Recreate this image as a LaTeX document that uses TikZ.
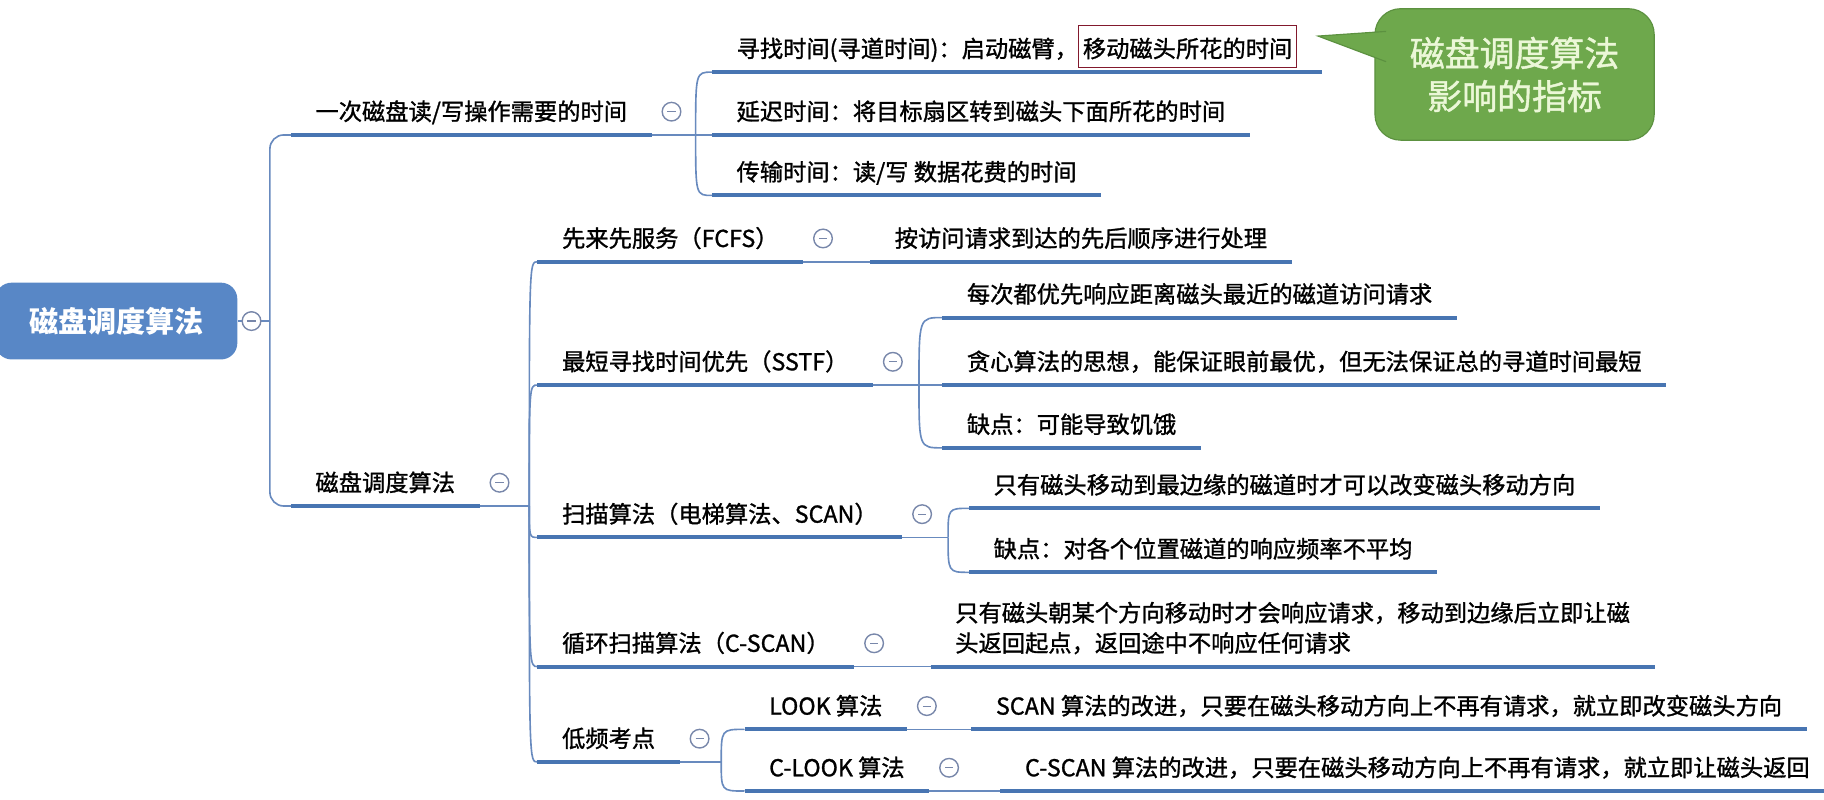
\documentclass[tikz,border=0pt]{standalone}
\usepackage{fontspec}
\setmainfont{Noto Sans CJK SC}[UprightFeatures={FakeBold=1.2}]
\usepackage{xcolor}
\usetikzlibrary{positioning, calc}

\definecolor{lineblue}{RGB}{72,117,178}
\definecolor{linkblue}{RGB}{104,138,190}
\definecolor{rootblue}{RGB}{88,135,198}
\definecolor{foldgray}{RGB}{120,135,170}
\definecolor{boxred}{RGB}{130,25,45}
\definecolor{notegreen}{RGB}{110,168,76}
\definecolor{noteedge}{RGB}{92,145,64}
\definecolor{notetext}{RGB}{235,247,215}

\newcommand\redmark[1]{{\setlength\fboxsep{3pt}\setlength\fboxrule{1.2pt}\fcolorbox{boxred}{white}{\rule[-5pt]{0pt}{29pt}#1}}}

\begin{document}
\begin{tikzpicture}[x=1pt,y=-1pt,
  topic/.style={anchor=south west,inner xsep=21pt,inner ysep=7.5pt,text height=15pt,text depth=5pt,
    font=\fontsize{20pt}{26pt}\selectfont},
  rootbox/.style={rounded corners=14pt,fill=rootblue,text=white,minimum width=208pt,minimum height=66pt,
    font=\fontsize{25pt}{30pt}\selectfont\bfseries},
  note/.style={rounded corners=22pt,fill=notegreen,draw=noteedge,line width=1pt,minimum width=240pt,
    minimum height=113pt,text=notetext,align=center,font=\fontsize{30pt}{37pt}\selectfont},
  uline/.style={draw=lineblue,line width=3.5pt},
  link/.style={draw=linkblue,line width=1.4pt},
  elbow/.style={to path={.. controls (\tikztostart|-\tikztotarget) and (\tikztostart|-\tikztotarget) .. (\tikztotarget)}},
  fold/.style={circle,draw=foldgray,fill=white,line width=1.2pt,minimum size=16pt,inner sep=0pt,
    path picture={\draw[foldgray,line width=1pt] ([xshift=-3.5pt]path picture bounding box.center)
      -- ([xshift=3.5pt]path picture bounding box.center);}}]
  \useasboundingbox (0,0) rectangle (1568,687);

  % root and first level
  \node[rootbox] (root) at (100,276) {磁盘调度算法};
  \coordinate (j0) at (232,276);
  \node[topic] (b1) at (250,116) {一次磁盘读/写操作需要的时间};
  \node[topic] (b2) at (250,435) {磁盘调度算法};

  % time of one access
  \coordinate (j1) at (598,116);
  \node[topic] (t1) at (612,62) {寻找时间(寻道时间)：启动磁臂，\redmark{移动磁头所花的时间}};
  \node[topic] (t2) at (612,116) {延迟时间：将目标扇区转到磁头下面所花的时间};
  \node[topic] (t3) at (612,168) {传输时间：读/写 数据花费的时间};

  % algorithms
  \coordinate (j2) at (455,435);
  \node[topic] (a1) at (462,225) {先来先服务（FCFS）};
  \node[topic] (a2) at (462,331) {最短寻找时间优先（SSTF）};
  \node[topic] (a3) at (462,462) {扫描算法（电梯算法、SCAN）};
  \node[topic] (a4) at (462,573) {循环扫描算法（C-SCAN）};
  \node[topic] (a5) at (462,655) {低频考点};

  \node[topic] (d1) at (748,225) {按访问请求到达的先后顺序进行处理};
  \coordinate (j22) at (790,331);
  \node[topic] (s1) at (810,273) {每次都优先响应距离磁头最近的磁道访问请求};
  \node[topic] (s2) at (810,331) {贪心算法的思想，能保证眼前最优，但无法保证总的寻道时间最短};
  \node[topic] (s3) at (810,385) {缺点：可能导致饥饿};
  \coordinate (j23) at (815,462);
  \node[topic] (n1) at (833,437) {只有磁头移动到最边缘的磁道时才可以改变磁头移动方向};
  \node[topic] (n2) at (833,492) {缺点：对各个位置磁道的响应频率不平均};
  \node[topic,text height=41pt] (c1) at (800,573) {\begin{tabular}[b]{@{}l@{}}只有磁头朝某个方向移动时才会响应请求，移动到边缘后立即让磁\\头返回起点，返回途中不响应任何请求\end{tabular}};
  \coordinate (j25) at (620,655);
  \node[topic] (l1) at (640,627) {LOOK 算法};
  \node[topic] (l2) at (640,680) {C-LOOK 算法};
  \node[topic] (e1) at (835,627) {SCAN 算法的改进，只要在磁头移动方向上不再有请求，就立即改变磁头方向};
  \node[topic] (e2) at (860,680) {C-SCAN 算法的改进，只要在磁头移动方向上不再有请求，就立即让磁头返回};

  % connectors
  \draw[link] (root.east) -- (j0);
  \draw[link,rounded corners=12pt] (j0) |- (b1.south west);
  \draw[link,rounded corners=12pt] (j0) |- (b2.south west);
  \draw[link] (b1.south east) -- (j1);
  \foreach \c in {t1,t2,t3} {\draw[link] (j1) to[elbow] (\c.south west);}
  \draw[link] (b2.south east) -- (j2);
  \foreach \c in {a1,a2,a3,a4,a5} {\draw[link] (j2) to[elbow] (\c.south west);}
  \draw[link] (a1.south east) -- (d1.south west);
  \draw[link] (a2.south east) -- (j22);
  \foreach \c in {s1,s2,s3} {\draw[link] (j22) to[elbow] (\c.south west);}
  \draw[link] (a3.south east) -- (j23);
  \foreach \c in {n1,n2} {\draw[link] (j23) to[elbow] (\c.south west);}
  \draw[link] (a4.south east) -- (c1.south west);
  \draw[link] (a5.south east) -- (j25);
  \foreach \c in {l1,l2} {\draw[link] (j25) to[elbow] (\c.south west);}
  \draw[link] (l1.south east) -- (e1.south west);
  \draw[link] (l2.south east) -- (e2.south west);

  % underlines
  \foreach \n in {b1,b2,t1,t2,t3,a1,a2,a3,a4,a5,d1,s1,s2,s3,n1,n2,c1,l1,l2,e1,e2}
    {\draw[uline] (\n.south west) -- (\n.south east);}

  % fold markers
  \node[fold] (f-root) at ([xshift=12pt]root.east) {};
  \foreach \p in {b1,b2,a1,a2,a3,a4,a5,l1,l2}
    {\node[fold] (f-\p) at ([xshift=17pt,yshift=20pt]\p.south east) {};}

  % note
  \node[note] (note) at (1302,64) {磁盘调度算法\\影响的指标};
  \coordinate (tip) at (1133,31);
  \filldraw[fill=notegreen,draw=noteedge,line width=1pt] ([xshift=10pt,yshift=37pt]note.west)
    -- (tip) -- ([xshift=10pt,yshift=11pt]note.west);
\end{tikzpicture}
\end{document}
